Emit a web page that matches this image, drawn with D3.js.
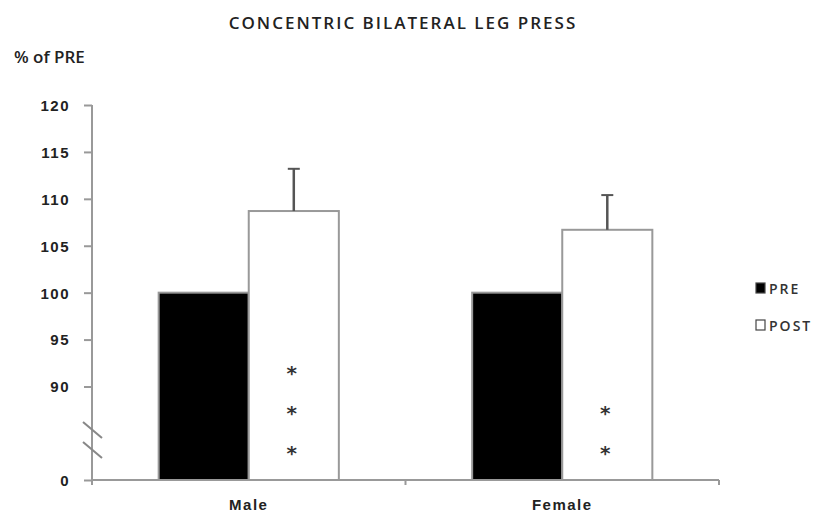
<!DOCTYPE html>
<html lang="en">
<head>
  <meta charset="utf-8">
  <title>Concentric Bilateral Leg Press</title>
  <script src="https://d3js.org/d3.v7.min.js"></script>
  <style>
    body {
      margin: 0;
      padding: 0;
      background-color: #fff;
      font-family: "Open Sans", Arial, sans-serif;
    }
    .axis path, .axis line {
      stroke: #999;
      stroke-width: 2px;
    }
    .axis text {
      fill: #222;
      font-size: 15px;
      font-weight: 600;
      letter-spacing: 1.5px;
    }
  </style>
</head>
<body>
  <svg id="chart" width="818" height="519"></svg>

  <script>
    const groups = ["Male", "Female"];
    const series = ["PRE", "POST"];
    const preValues = [100, 100];
    const postValues = [108.7, 106.7];
    const postErrors = [4.5, 3.7];
    const starCounts = [3, 2];
    const yTicks = [0, 90, 95, 100, 105, 110, 115, 120];

    const width = 818;
    const height = 519;
    const axisX = 92;
    const baseY = 480;

    const svg = d3.select("#chart")
      .attr("width", width)
      .attr("height", height);

    // broken axis: 0 sits just below the 90..120 section
    const y = d3.scaleLinear()
      .domain([0, 90, 120])
      .range([baseY, 386.5, 105]);

    const x = d3.scaleBand()
      .domain(groups)
      .range([axisX, 719]);

    const x1 = d3.scaleBand()
      .domain(series)
      .range([0, x.bandwidth()])
      .paddingOuter(0.74);

    const fills = { PRE: "#000", POST: "#fff" };

    const rows = groups.map((g, i) => ({
      group: g,
      values: [
        { key: "PRE", value: preValues[i] },
        { key: "POST", value: postValues[i], err: postErrors[i] }
      ],
      stars: starCounts[i]
    }));

    // title
    svg.append("text")
      .attr("x", 403)
      .attr("y", 29)
      .attr("text-anchor", "middle")
      .attr("font-size", 17)
      .attr("font-weight", 600)
      .attr("letter-spacing", 2)
      .attr("fill", "#222")
      .text("CONCENTRIC BILATERAL LEG PRESS");

    svg.append("text")
      .attr("x", 14)
      .attr("y", 63)
      .attr("font-size", 17)
      .attr("font-weight", 600)
      .attr("fill", "#222")
      .text("% of PRE");

    // y axis
    const yAxis = svg.append("g")
      .attr("class", "axis")
      .attr("transform", `translate(${axisX},0)`)
      .call(d3.axisLeft(y).tickValues(yTicks).tickSize(8).tickPadding(14).tickSizeOuter(0));
    yAxis.select(".domain").attr("d", `M0,${y(120)}V${baseY + 5}`);
    yAxis.selectAll(".tick text").attr("dy", "0.36em");

    // x axis
    const xAxis = svg.append("g")
      .attr("class", "axis")
      .attr("transform", `translate(0,${baseY})`)
      .call(d3.axisBottom(x).tickSize(0).tickPadding(19));
    xAxis.select(".domain").attr("d", `M${axisX},0H719`);
    xAxis.selectAll(".tick text").attr("fill", "#444");
    xAxis.selectAll("line.sep")
      .data([x("Female"), 719])
      .join("line")
      .attr("class", "sep")
      .attr("x1", d => d).attr("x2", d => d)
      .attr("y1", 0).attr("y2", 5);

    // break marks on the y axis
    svg.append("g")
      .selectAll("line")
      .data([0, 20])
      .join("line")
      .attr("x1", axisX - 9)
      .attr("x2", axisX + 10)
      .attr("y1", d => 422 + d)
      .attr("y2", d => 438 + d)
      .attr("stroke", "#888")
      .attr("stroke-width", 2);

    // bars
    const grp = svg.append("g")
      .selectAll("g")
      .data(rows)
      .join("g")
      .attr("transform", d => `translate(${x(d.group)},0)`);

    grp.selectAll("rect")
      .data(d => d.values)
      .join("rect")
      .attr("x", d => x1(d.key))
      .attr("y", d => y(d.value))
      .attr("width", x1.bandwidth())
      .attr("height", d => baseY - y(d.value))
      .attr("fill", d => fills[d.key])
      .attr("stroke", "#999")
      .attr("stroke-width", 2);

    // error bars (upper only)
    const errs = grp.selectAll("g.err")
      .data(d => d.values.filter(v => v.err))
      .join("g")
      .attr("class", "err");
    errs.append("line")
      .attr("x1", d => x1(d.key) + x1.bandwidth() / 2)
      .attr("x2", d => x1(d.key) + x1.bandwidth() / 2)
      .attr("y1", d => y(d.value))
      .attr("y2", d => y(d.value + d.err))
      .attr("stroke", "#555")
      .attr("stroke-width", 2.5);
    errs.append("line")
      .attr("x1", d => x1(d.key) + x1.bandwidth() / 2 - 6)
      .attr("x2", d => x1(d.key) + x1.bandwidth() / 2 + 6)
      .attr("y1", d => y(d.value + d.err))
      .attr("y2", d => y(d.value + d.err))
      .attr("stroke", "#555")
      .attr("stroke-width", 2);

    // significance stars
    grp.selectAll("text.star")
      .data(d => d3.range(d.stars))
      .join("text")
      .attr("class", "star")
      .attr("x", x1("POST") + x1.bandwidth() / 2 - 2)
      .attr("y", i => baseY - 20 - i * 40)
      .attr("text-anchor", "middle")
      .attr("font-family", "DejaVu Sans")
      .attr("font-weight", "bold")
      .attr("font-size", 20)
      .attr("fill", "#333")
      .text("*");

    // legend
    const legend = svg.append("g")
      .attr("transform", "translate(756,283)")
      .selectAll("g")
      .data(series)
      .join("g")
      .attr("transform", (d, i) => `translate(0,${i * 37})`);
    legend.append("rect")
      .attr("width", 9)
      .attr("height", 10)
      .attr("fill", d => fills[d])
      .attr("stroke", "#444")
      .attr("stroke-width", 1.2);
    legend.append("text")
      .attr("x", 13)
      .attr("y", 10.5)
      .attr("font-size", 14)
      .attr("font-weight", 600)
      .attr("letter-spacing", 2)
      .attr("fill", "#333")
      .text(d => d);
  </script>
</body>
</html>
